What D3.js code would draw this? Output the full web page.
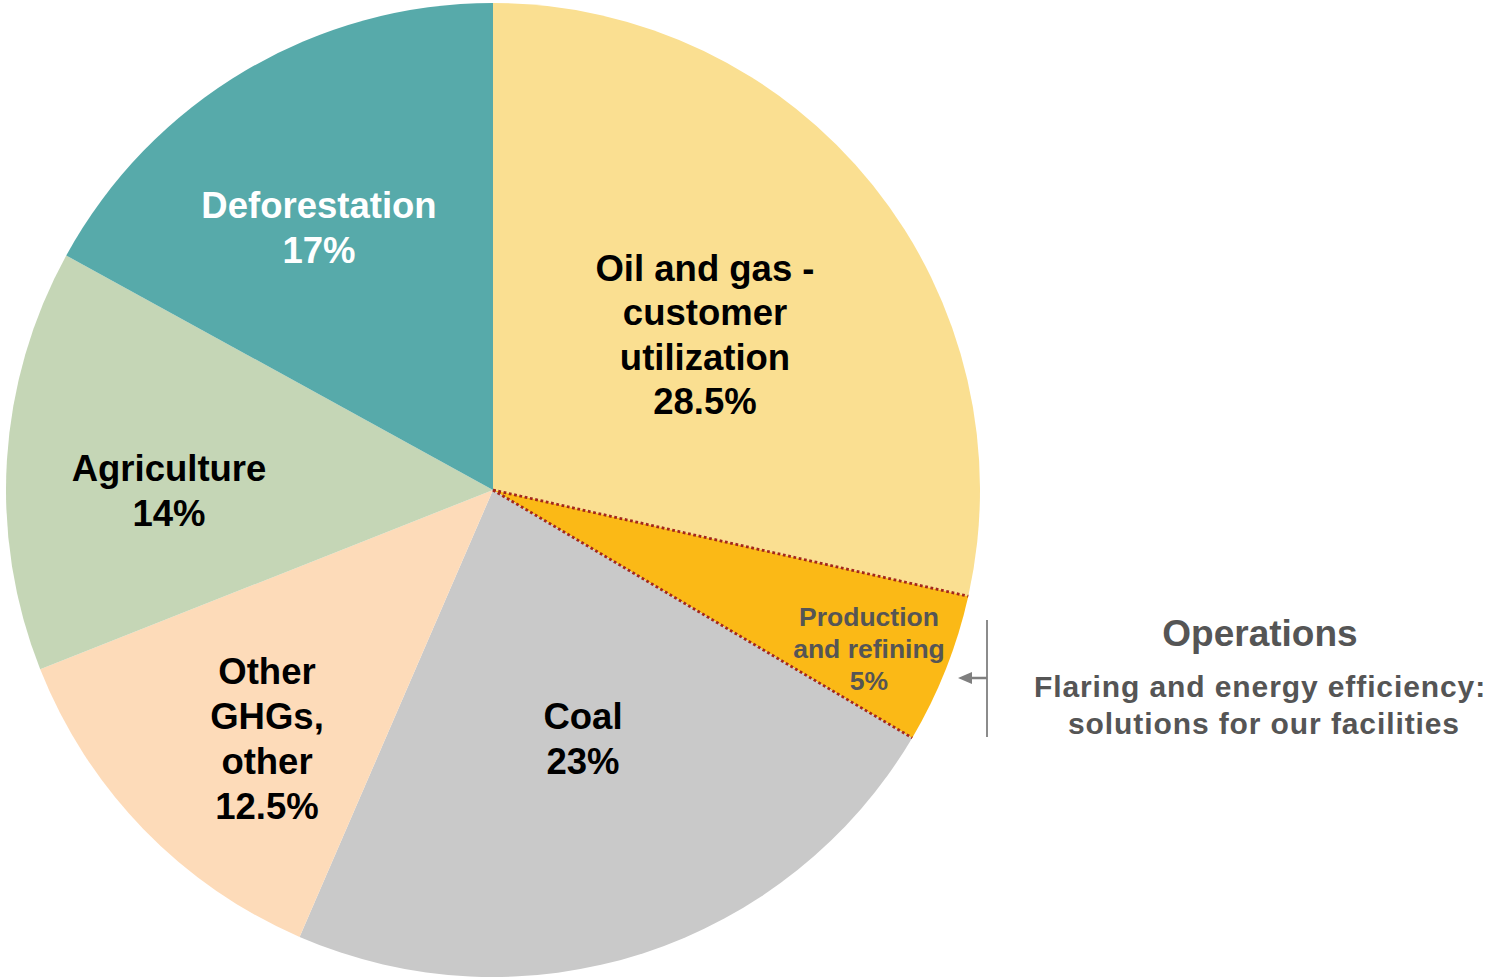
<!DOCTYPE html>
<html>
<head>
<meta charset="utf-8">
<script src="https://cdn.jsdelivr.net/npm/d3@7"></script>
<style>
html,body{margin:0;padding:0;background:#fff;}
svg{display:block;font-family:"Liberation Sans",Arial,sans-serif;font-weight:bold;}
</style>
</head>
<body>
<svg id="chart" width="1489" height="978"></svg>
<script>
const categories = ["Oil and gas - customer utilization", "Production and refining", "Coal", "Other GHGs, other", "Agriculture", "Deforestation"];
const values = [28.5, 5, 23, 12.5, 14, 17];
const labelLines = [
  ["Oil and gas -", "customer", "utilization", "28.5%"],
  ["Production", "and refining", "5%"],
  ["Coal", "23%"],
  ["Other", "GHGs,", "other", "12.5%"],
  ["Agriculture", "14%"],
  ["Deforestation", "17%"]
];
const colors = ["#FADF91", "#FBB916", "#C9C9C9", "#FDDBB9", "#C5D6B6", "#57AAAA"];
const annotationTitle = "Operations";
const annotationLines = ["Flaring and energy efficiency:", "solutions for our facilities"];

const svg = d3.select("#chart");
const cx = 493, cy = 490, R = 487;
const g = svg.append("g").attr("transform", `translate(${cx},${cy})`);

const pie = d3.pie().sort(null).value(d => d)(values);
const arc = d3.arc().innerRadius(0).outerRadius(R);

g.selectAll("path.slice").data(pie).join("path")
  .attr("class", "slice")
  .attr("d", arc)
  .attr("fill", (d, i) => colors[i]);

// dotted radial edges for production slice
const prod = pie[1];
[prod.startAngle, prod.endAngle].forEach(a => {
  g.append("line")
    .attr("x1", 0).attr("y1", 0)
    .attr("x2", R * Math.sin(a)).attr("y2", -R * Math.cos(a))
    .attr("stroke", "#A3261C").attr("stroke-width", 2.8)
    .attr("stroke-dasharray", "2.8 2.6");
});

// label layout (center x, first line center y, line height, font size, color)
const layout = [
  {x: 705, y: 268, lh: 44.3, fs: 36.5, c: "#000"},
  {x: 869, y: 616, lh: 32, fs: 26.5, c: "#555"},
  {x: 583, y: 716, lh: 45, fs: 36.5, c: "#000"},
  {x: 267, y: 671, lh: 45, fs: 36.5, c: "#000"},
  {x: 169, y: 468, lh: 45, fs: 36.5, c: "#000"},
  {x: 319, y: 205, lh: 45, fs: 36.5, c: "#fff"}
];

labelLines.forEach((lines, i) => {
  const L = layout[i];
  const t = svg.append("text")
    .attr("text-anchor", "middle")
    .attr("font-size", L.fs)
    .attr("fill", L.c);
  lines.forEach((ln, j) => {
    t.append("tspan").attr("x", L.x).attr("y", L.y + j * L.lh + L.fs * 0.36).text(ln);
  });
});

// annotation bracket and arrow
svg.append("line").attr("x1", 987).attr("y1", 620).attr("x2", 987).attr("y2", 737)
  .attr("stroke", "#8C8C8C").attr("stroke-width", 2);
svg.append("line").attr("x1", 987).attr("y1", 678).attr("x2", 968).attr("y2", 678)
  .attr("stroke", "#7F7F7F").attr("stroke-width", 2.5);
svg.append("path").attr("d", "M958,678 L972,672 L972,684 Z").attr("fill", "#7F7F7F");

svg.append("text").attr("x", 1260).attr("y", 633 + 13).attr("text-anchor", "middle")
  .attr("font-size", 37).attr("fill", "#555").text(annotationTitle);
const at = svg.append("text").attr("text-anchor", "middle").attr("font-size", 30)
  .attr("letter-spacing", 0.9).attr("fill", "#555");
annotationLines.forEach((ln, j) => {
  at.append("tspan").attr("x", j === 0 ? 1260 : 1264).attr("y", 686 + j * 37 + 10.5).text(ln);
});
</script>
</body>
</html>
